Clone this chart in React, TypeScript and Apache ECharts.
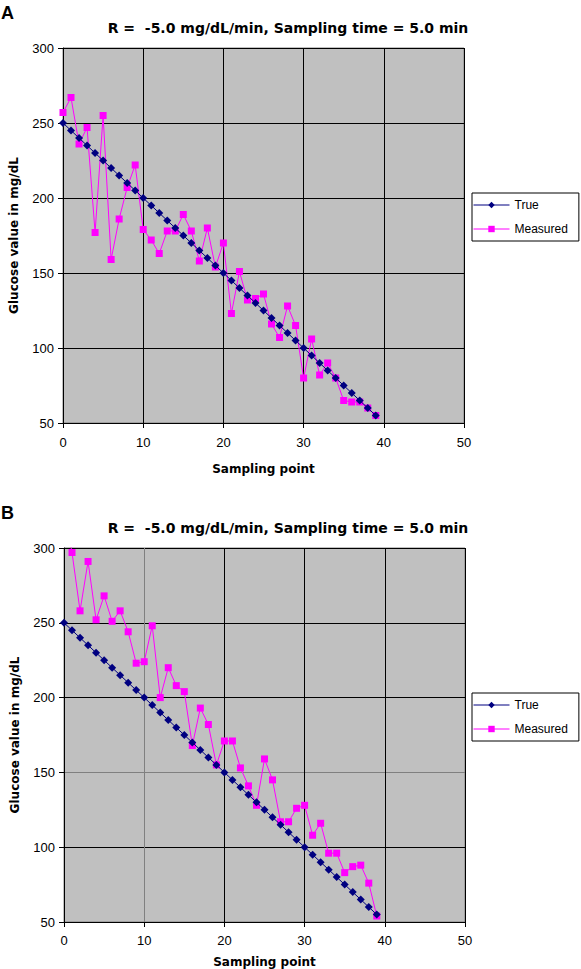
import React, { useEffect, useRef } from 'react';
import * as echarts from 'echarts';

const samplingPoint = [0, 1, 2, 3, 4, 5, 6, 7, 8, 9, 10, 11, 12, 13, 14, 15, 16, 17, 18, 19, 20, 21, 22, 23, 24, 25, 26, 27, 28, 29, 30, 31, 32, 33, 34, 35, 36, 37, 38, 39];
const trueGlucose = [250, 245, 240, 235, 230, 225, 220, 215, 210, 205, 200, 195, 190, 185, 180, 175, 170, 165, 160, 155, 150, 145, 140, 135, 130, 125, 120, 115, 110, 105, 100, 95, 90, 85, 80, 75, 70, 65, 60, 55];
const measuredA = [257, 267, 236, 247, 177, 255, 159, 186, 207, 222, 179, 172, 163, 178, 178, 189, 178, 158, 180, 154, 170, 123, 151, 132, 133, 136, 116, 107, 128, 115, 80, 106, 82, 90, 80, 65, 64, 64, 60, 55];
const measuredB = [325, 297, 258, 291, 252, 268, 251, 258, 244, 223, 224, 248, 200, 220, 208, 204, 168, 193, 182, 155, 171, 171, 153, 141, 128, 159, 145, 117, 117, 126, 128, 108, 116, 96, 96, 83, 87, 88, 76, 54];
const seriesNames = ['True', 'Measured'];
const panelLabels = ['A', 'B'];
const chartTitle = 'R =  -5.0 mg/dL/min, Sampling time = 5.0 min';
const xAxisTitle = 'Sampling point';
const yAxisTitle = 'Glucose value in mg/dL';

const FONT = '"Liberation Sans", Arial, sans-serif';
const BOLD_FONT = '"DejaVu Sans", "Liberation Sans", sans-serif';

const pairs = (ys: number[]) => samplingPoint.map((x, i) => [x, ys[i]]);

export default function App() {
  const ref = useRef<HTMLDivElement>(null);
  useEffect(() => {
    document.body.style.margin = '0';
    if (!ref.current) return;
    const chart = echarts.init(ref.current, null, { renderer: 'svg' });

    const grids = [
      { left: 63, top: 48, width: 401, height: 375 },
      { left: 64, top: 548, width: 401, height: 375 },
    ];
    const xLabelMargin = [13, 12];
    const xNameGap = [40, 34];
    const xSplitColors = [
      ['#000'],
      ['#000', '#808080', '#000', '#000', '#000', '#000'],
    ];
    const ySplitColors = [
      ['#000'],
      ['#000', '#000', '#808080', '#000', '#000', '#000'],
    ];

    const xAxes = grids.map((_, k) => ({
      type: 'value',
      gridIndex: k,
      min: 0,
      max: 50,
      interval: 10,
      name: xAxisTitle,
      nameLocation: 'middle',
      nameGap: xNameGap[k],
      nameTextStyle: { fontFamily: BOLD_FONT, fontWeight: 'bold', fontSize: 12, color: '#000' },
      axisLine: { show: true, onZero: false, lineStyle: { color: '#000', width: 1 } },
      axisTick: { show: true, length: 5, lineStyle: { color: '#000' } },
      axisLabel: { fontFamily: FONT, fontSize: 13, color: '#000', margin: xLabelMargin[k] },
      splitLine: { show: true, lineStyle: { color: xSplitColors[k], width: 1 } },
    }));
    const yAxes = grids.map((_, k) => ({
      type: 'value',
      gridIndex: k,
      min: 50,
      max: 300,
      interval: 50,
      name: yAxisTitle,
      nameLocation: 'middle',
      nameGap: 43,
      nameTextStyle: { fontFamily: BOLD_FONT, fontWeight: 'bold', fontSize: 12, color: '#000' },
      axisLine: { show: true, onZero: false, lineStyle: { color: '#000', width: 1 } },
      axisTick: { show: true, length: 5, lineStyle: { color: '#000' } },
      axisLabel: { fontFamily: FONT, fontSize: 13, color: '#000', margin: 9 },
      splitLine: { show: true, lineStyle: { color: ySplitColors[k], width: 1 } },
    }));

    const measured = [measuredA, measuredB];
    const series: any[] = [];
    for (let k = 0; k < 2; k++) {
      series.push({
        name: seriesNames[0],
        type: 'line',
        xAxisIndex: k,
        yAxisIndex: k,
        data: pairs(trueGlucose),
        symbol: 'diamond',
        symbolSize: 8,
        itemStyle: { color: '#000080' },
        lineStyle: { color: '#000080', width: 1 },
        clip: true,
        z: 3,
      });
      series.push({
        name: seriesNames[1],
        type: 'line',
        xAxisIndex: k,
        yAxisIndex: k,
        data: pairs(measured[k]),
        symbol: 'rect',
        symbolSize: 7,
        itemStyle: { color: '#FF00FF' },
        lineStyle: { color: '#FF00FF', width: 1 },
        clip: true,
        z: 2,
      });
    }

    const legendTops = [193, 693];
    const legends = legendTops.map((top) => ({
      orient: 'vertical',
      left: 472,
      top,
      data: seriesNames,
      itemWidth: 36,
      itemHeight: 8,
      itemGap: 12,
      padding: [6, 11, 6, 1],
      backgroundColor: '#fff',
      borderColor: '#000',
      borderWidth: 1,
      borderRadius: 0,
      selectedMode: false,
      lineStyle: { width: 1 },
      textStyle: { fontFamily: FONT, fontSize: 12, color: '#000' },
    }));

    const graphics: any[] = [];
    const offsets = [0, 500];
    offsets.forEach((dy, k) => {
      graphics.push({
        type: 'text',
        left: 1,
        top: 4 + dy,
        style: { text: panelLabels[k], font: `bold 18px ${FONT}`, fill: '#000' },
      });
      graphics.push({
        type: 'text',
        x: 288,
        y: 28 + dy,
        style: {
          text: chartTitle,
          font: `bold 14px ${BOLD_FONT}`,
          fill: '#000',
          textAlign: 'center',
          textVerticalAlign: 'middle',
        },
      });
    });

    chart.setOption({
      animation: false,
      backgroundColor: '#fff',
      grid: grids.map((g) => ({
        ...g,
        show: true,
        backgroundColor: '#C0C0C0',
        borderColor: '#808080',
        borderWidth: 1,
      })),
      xAxis: xAxes,
      yAxis: yAxes,
      legend: legends,
      series,
      graphic: graphics,
    });
    return () => chart.dispose();
  }, []);
  return <div ref={ref} style={{ width: 581, height: 969 }} />;
}
